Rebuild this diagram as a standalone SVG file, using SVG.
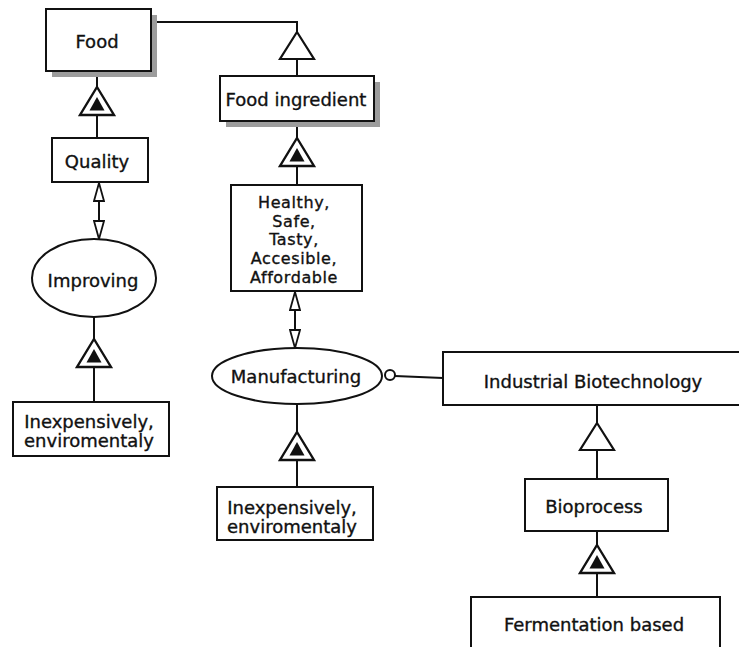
<svg xmlns="http://www.w3.org/2000/svg" width="739" height="647" viewBox="0 0 739 647">
  <style>
    .box { fill: #fff; stroke: #111; stroke-width: 2; }
    .shadow { fill: #9c9c9c; }
    .proc { fill: #fff; stroke: #111; stroke-width: 2; }
    .link { fill: none; stroke: #111; stroke-width: 2; }
    .lbl { font-family: "DejaVu Sans", Verdana, sans-serif; font-size: 18px; fill: #111; stroke: #111; stroke-width: 0.35; text-anchor: middle; }
    .lbl2 { font-family: "DejaVu Sans", Verdana, sans-serif; font-size: 16px; letter-spacing: 0.6px; fill: #111; stroke: #111; stroke-width: 0.35; text-anchor: middle; }
  </style>
  <defs>
    <!-- open head for bidirectional effect links -->
    <marker id="openHead" viewBox="0 0 20 12" refX="19" refY="6" markerWidth="20" markerHeight="12" markerUnits="userSpaceOnUse" orient="auto-start-reverse">
      <path d="M1,1 L19,6 L1,11 Z" fill="#fff" stroke="#111" stroke-width="1.8"/>
    </marker>
    <!-- generalization: hollow triangle, apex at origin -->
    <g id="gen">
      <polygon points="0,0 17,27 -17,27" fill="#fff" stroke="#111" stroke-width="2.2"/>
    </g>
    <!-- exhibition/characterization: hollow triangle with a filled inner triangle -->
    <g id="exh">
      <polygon points="0,0 17,28 -17,28" fill="#fff" stroke="#111" stroke-width="2.4"/>
      <polygon points="0,10 7.5,23.5 -7.5,23.5" fill="#111"/>
    </g>
  </defs>

  <!-- connectors -->
  <g id="connectors">
    <line class="link" x1="97" y1="71" x2="97" y2="87"/>
    <line class="link" x1="97" y1="115" x2="97" y2="138"/>
    <path class="link" d="M151,22 H297 V32"/>
    <line class="link" x1="297" y1="59" x2="297" y2="76"/>
    <line class="link" x1="297" y1="121" x2="297" y2="138"/>
    <line class="link" x1="297" y1="166" x2="297" y2="185"/>
    <line class="link" x1="99" y1="183" x2="99" y2="239" marker-start="url(#openHead)" marker-end="url(#openHead)"/>
    <line class="link" x1="295" y1="292" x2="295" y2="348" marker-start="url(#openHead)" marker-end="url(#openHead)"/>
    <line class="link" x1="94" y1="317" x2="94" y2="339"/>
    <line class="link" x1="94" y1="367" x2="94" y2="402"/>
    <line class="link" x1="297" y1="404" x2="297" y2="432"/>
    <line class="link" x1="297" y1="460" x2="297" y2="487"/>
    <line class="link" x1="395" y1="376" x2="443" y2="378"/>
    <circle cx="390" cy="375" r="5" fill="#fff" stroke="#111" stroke-width="2"/>
    <line class="link" x1="597" y1="405" x2="597" y2="423"/>
    <line class="link" x1="597" y1="450" x2="597" y2="479"/>
    <line class="link" x1="597" y1="531" x2="597" y2="545"/>
    <line class="link" x1="597" y1="573" x2="597" y2="597"/>
    <use href="#exh" x="97" y="87"/>
    <use href="#gen" x="297" y="32"/>
    <use href="#exh" x="297" y="138"/>
    <use href="#exh" x="94" y="339"/>
    <use href="#exh" x="297" y="432"/>
    <use href="#gen" x="597" y="423"/>
    <use href="#exh" x="597" y="545"/>
  </g>

  <g id="food">
    <rect class="shadow" x="52" y="15" width="105" height="62"/>
    <rect class="box" x="46" y="9" width="105" height="62"/>
    <text class="lbl" x="97" y="48">Food</text>
  </g>

  <g id="food-ingredient">
    <rect class="shadow" x="226" y="82" width="154" height="45"/>
    <rect class="box" x="220" y="76" width="154" height="45"/>
    <text class="lbl" x="296" y="106">Food ingredient</text>
  </g>

  <g id="quality">
    <rect class="box" x="52" y="138" width="96" height="44"/>
    <text class="lbl" x="97" y="168">Quality</text>
  </g>

  <g id="attributes">
    <rect class="box" x="231" y="185" width="131" height="106"/>
    <text class="lbl2" x="294" y="208">Healthy,</text>
    <text class="lbl2" x="294" y="227">Safe,</text>
    <text class="lbl2" x="294" y="245">Tasty,</text>
    <text class="lbl2" x="294" y="264">Accesible,</text>
    <text class="lbl2" x="294" y="283">Affordable</text>
  </g>

  <g id="improving">
    <ellipse class="proc" cx="94" cy="278" rx="62" ry="39"/>
    <text class="lbl" x="93" y="287">Improving</text>
  </g>

  <g id="manner-improving">
    <rect class="box" x="13" y="402" width="156" height="54"/>
    <text class="lbl" x="89" y="428">Inexpensively,</text>
    <text class="lbl" x="89" y="447">enviromentaly</text>
  </g>

  <g id="manufacturing">
    <ellipse class="proc" cx="297" cy="376" rx="85" ry="28"/>
    <text class="lbl" x="296" y="383">Manufacturing</text>
  </g>

  <g id="manner-manufacturing">
    <rect class="box" x="217" y="487" width="156" height="53"/>
    <text class="lbl" x="292" y="514">Inexpensively,</text>
    <text class="lbl" x="292" y="533">enviromentaly</text>
  </g>

  <g id="industrial-biotechnology">
    <rect class="box" x="443" y="352" width="300" height="53"/>
    <text class="lbl" x="593" y="388">Industrial Biotechnology</text>
  </g>

  <g id="bioprocess">
    <rect class="box" x="525" y="479" width="143" height="52"/>
    <text class="lbl" x="594" y="513">Bioprocess</text>
  </g>

  <g id="fermentation">
    <rect class="box" x="471" y="597" width="249" height="60"/>
    <text class="lbl" x="594" y="631">Fermentation based</text>
  </g>
</svg>
